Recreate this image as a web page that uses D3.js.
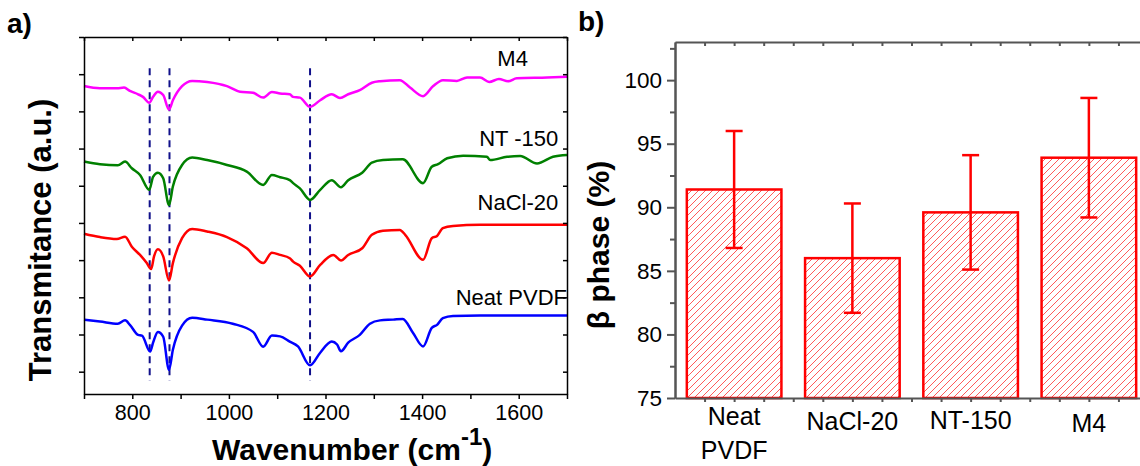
<!DOCTYPE html>
<html>
<head>
<meta charset="utf-8">
<script src="https://cdn.jsdelivr.net/npm/d3@7"></script>
<style>
    body { margin: 0; background: #fff; }
    text { font-family: Arial, "Liberation Sans", sans-serif; }
</style>
</head>
<body>
<div id="chart"></div>
<script>

// Data
// ============================================

// FTIR spectra: [wavenumber (cm-1), transmittance (a.u., offset)]
var neatPVDF = [[700,1.40],[733,1.35],[770,1.29],[785,1.38],[795,1.26],[812,0.99],[820,0.97],[837,0.54],[843,0.78],[853,1.07],[864,0.94],[876,0.05],[884,0.59],[903,1.24],[924,1.45],[955,1.40],[1008,1.29],[1050,1.07],[1071,0.67],[1089,0.97],[1106,0.95],[1126,0.81],[1143,0.68],[1168,0.17],[1189,0.51],[1213,0.81],[1224,0.73],[1232,0.55],[1247,0.78],[1271,0.99],[1292,1.29],[1313,1.38],[1340,1.40],[1360,1.42],[1381,1.05],[1402,0.68],[1420,1.18],[1431,1.26],[1443,1.44],[1464,1.50],[1520,1.51],[1700,1.51]];

var nacl20 = [[700,3.71],[733,3.62],[768,3.57],[785,3.63],[799,3.36],[816,3.14],[830,2.92],[839,2.76],[845,3.10],[853,3.29],[864,3.10],[876,2.45],[884,2.92],[903,3.59],[924,3.84],[955,3.77],[996,3.62],[1037,3.32],[1071,2.92],[1089,3.20],[1106,3.14],[1126,3.05],[1133,2.96],[1147,2.85],[1168,2.56],[1189,2.87],[1216,3.14],[1232,2.99],[1247,3.14],[1276,3.32],[1296,3.68],[1319,3.79],[1354,3.81],[1365,3.68],[1402,3.01],[1420,3.59],[1431,3.65],[1443,3.86],[1464,3.92],[1520,3.95],[1700,3.95]];

var nt150 = [[700,5.65],[733,5.58],[770,5.55],[785,5.65],[799,5.47],[816,5.29],[835,4.89],[843,5.24],[853,5.35],[864,5.20],[876,4.48],[884,4.98],[903,5.56],[924,5.76],[955,5.69],[996,5.56],[1037,5.38],[1071,5.02],[1089,5.29],[1106,5.23],[1126,5.15],[1133,5.07],[1147,4.93],[1168,4.62],[1189,4.89],[1213,5.15],[1232,4.96],[1247,5.15],[1276,5.35],[1296,5.62],[1319,5.69],[1360,5.71],[1402,5.07],[1420,5.51],[1433,5.58],[1452,5.74],[1485,5.81],[1534,5.78],[1541,5.69],[1576,5.78],[1603,5.80],[1638,5.60],[1671,5.78],[1700,5.83]];

var m4 = [[700,7.68],[733,7.62],[768,7.62],[783,7.64],[795,7.55],[812,7.46],[822,7.39],[835,7.23],[843,7.39],[853,7.53],[864,7.44],[876,7.05],[884,7.30],[903,7.68],[924,7.82],[955,7.79],[996,7.68],[1023,7.53],[1050,7.50],[1071,7.37],[1089,7.52],[1106,7.48],[1126,7.46],[1133,7.39],[1147,7.37],[1168,7.12],[1189,7.30],[1213,7.46],[1230,7.36],[1247,7.46],[1271,7.57],[1296,7.77],[1313,7.81],[1354,7.84],[1375,7.64],[1402,7.41],[1423,7.68],[1443,7.84],[1472,7.82],[1493,7.91],[1520,7.91],[1539,7.79],[1559,7.87],[1578,7.81],[1596,7.89],[1659,7.91],[1700,7.93]];

var spectraNames = ["Neat PVDF", "NaCl-20", "NT -150", "M4"];
var spectraColors = ["#0000ff", "#ff0000", "#008000", "#ff00ff"];

// marker lines (cm-1) and their vertical extent (a.u.)
var peakLines = [836, 877, 1168];
var peakLineRange = [-0.24, 8.16];

var wnTicks = [700, 800, 900, 1000, 1100, 1200, 1300, 1400, 1500, 1600, 1700];
var wnLabels = [800, 1000, 1200, 1400, 1600];
var transTicks = [0, 1, 2, 3, 4, 5, 6, 7, 8, 9];

// beta phase content
var categories = ["Neat PVDF", "NaCl-20", "NT-150", "M4"];
var betaValues = [91.4, 86.0, 89.6, 93.9];
var betaErrors = [4.6, 4.3, 4.5, 4.7];
var betaTicks = [75, 80, 85, 90, 95, 100];
var betaMinorTicks = [77.5, 82.5, 87.5, 92.5, 97.5, 102.5];


// SVG
// ============================================
var svg = d3.select("#chart")
    .append("svg")
    .attr("width", 1140)
    .attr("height", 466);

var defs = svg.append("defs");

// thin diagonal hatch for the bars
defs.append("pattern")
    .attr("id", "hatch")
    .attr("patternUnits", "userSpaceOnUse")
    .attr("width", 7)
    .attr("height", 7)
    .append("path")
    .attr("d", "M-1,1 l2,-2 M0,7 l7,-7 M6,8 l2,-2")
    .attr("stroke", "#ff3030")
    .attr("stroke-width", 0.8);


// Panel a) FTIR spectra
// ============================================
var xScale = d3.scaleLinear().domain([700, 1700]).range([84, 567]);
var yScale = d3.scaleLinear().domain([-0.6, 9]).range([394, 37]);

var panelA = svg.append("g");

var line = d3.line()
    .x(d => xScale(d[0]))
    .y(d => yScale(d[1]))
    .curve(d3.curveMonotoneX);

// dashed peak markers
panelA.append("g")
    .selectAll("line")
    .data(peakLines)
    .enter()
    .append("line")
    .attr("x1", d => xScale(d))
    .attr("x2", d => xScale(d))
    .attr("y1", yScale(peakLineRange[1]))
    .attr("y2", yScale(peakLineRange[0]))
    .attr("stroke", "#10108a")
    .attr("stroke-width", 2)
    .attr("stroke-dasharray", "7,5");

// spectra
var spectra = [neatPVDF, nacl20, nt150, m4];

panelA.append("g")
    .selectAll("path")
    .data(spectra)
    .enter()
    .append("path")
    .attr("d", line)
    .attr("fill", "none")
    .attr("stroke", (d, i) => spectraColors[i])
    .attr("stroke-width", 2.5)
    .attr("stroke-linejoin", "round");

// axes
var bottomAxis = d3.axisBottom(xScale)
    .tickValues(wnTicks)
    .tickSizeInner(5)
    .tickSizeOuter(0)
    .tickPadding(6)
    .tickFormat(d => wnLabels.indexOf(d) >= 0 ? d : "");

var xAxisA = panelA.append("g")
    .attr("transform", `translate(0, ${yScale.range()[0]})`)
    .call(bottomAxis);

panelA.append("g")
    .attr("transform", `translate(0, ${yScale.range()[1]})`)
    .call(d3.axisTop(xScale).tickValues(wnTicks).tickSizeInner(-4).tickSizeOuter(0).tickFormat(""));

panelA.append("g")
    .attr("transform", `translate(${xScale.range()[0]}, 0)`)
    .call(d3.axisLeft(yScale).tickValues(transTicks).tickSizeInner(5).tickSizeOuter(0).tickFormat(""));

panelA.append("g")
    .attr("transform", `translate(${xScale.range()[1]}, 0)`)
    .call(d3.axisRight(yScale).tickValues(transTicks).tickSizeInner(-4).tickSizeOuter(0).tickFormat(""));

panelA.selectAll(".domain, .tick line")
    .attr("stroke", "#000")
    .attr("stroke-width", 1.5);

xAxisA.selectAll("text")
    .attr("font-size", "21.5px")
    .attr("fill", "#000");

// spectra labels
var labelSpots = [[1700, 1.80], [1682, 4.35], [1682, 6.08], [1619, 8.21]];

panelA.append("g")
    .selectAll("text")
    .data(spectraNames)
    .enter()
    .append("text")
    .attr("x", (d, i) => xScale(labelSpots[i][0]))
    .attr("y", (d, i) => yScale(labelSpots[i][1]))
    .attr("text-anchor", "end")
    .attr("font-size", "22px")
    .attr("fill", "#000")
    .text(d => d);

// axis titles
var xTitle = panelA.append("text")
    .attr("x", 212)
    .attr("y", 460)
    .attr("font-size", "30px")
    .attr("font-weight", "bold")
    .attr("fill", "#000");
xTitle.append("tspan").text("Wavenumber (cm");
xTitle.append("tspan").attr("font-size", "24px").attr("dy", -15).text("-1");
xTitle.append("tspan").attr("dy", 15).text(")");

panelA.append("text")
    .attr("transform", "translate(51, 240) rotate(-90)")
    .attr("text-anchor", "middle")
    .attr("font-size", "31px")
    .attr("font-weight", "bold")
    .attr("fill", "#000")
    .text("Transmitance (a.u.)");

panelA.append("text")
    .attr("x", 7)
    .attr("y", 33)
    .attr("font-size", "28px")
    .attr("font-weight", "bold")
    .text("a)");


// Panel b) beta phase bars
// ============================================
var xBand = d3.scaleBand()
    .domain(categories)
    .range([675, 1148])
    .paddingInner(0.2)
    .paddingOuter(0.1);

// same range, in category index units, for the quarter-step ticks
var xIndex = d3.scaleLinear().domain([-0.5, 3.5]).range(xBand.range());
var quarterTicks = d3.range(-0.25, 3.5, 0.25);

var yBeta = d3.scaleLinear().domain([75, 103]).range([398, 42]);

var panelB = svg.append("g");

// bars
panelB.append("g")
    .selectAll("rect")
    .data(betaValues)
    .enter()
    .append("rect")
    .attr("x", (d, i) => xBand(categories[i]))
    .attr("y", d => yBeta(d))
    .attr("width", xBand.bandwidth())
    .attr("height", d => yBeta(75) - yBeta(d))
    .attr("fill", "url(#hatch)")
    .attr("stroke", "#ff0000")
    .attr("stroke-width", 2.5);

// error bars
var errGroup = panelB.append("g")
    .selectAll("g")
    .data(betaValues)
    .enter()
    .append("g")
    .attr("transform", (d, i) => `translate(${xBand(categories[i]) + xBand.bandwidth() / 2}, 0)`);

errGroup.append("line")
    .attr("y1", (d, i) => yBeta(d + betaErrors[i]))
    .attr("y2", (d, i) => yBeta(d - betaErrors[i]));

errGroup.append("line")
    .attr("x1", -8.5).attr("x2", 8.5)
    .attr("y1", (d, i) => yBeta(d + betaErrors[i]))
    .attr("y2", (d, i) => yBeta(d + betaErrors[i]));

errGroup.append("line")
    .attr("x1", -8.5).attr("x2", 8.5)
    .attr("y1", (d, i) => yBeta(d - betaErrors[i]))
    .attr("y2", (d, i) => yBeta(d - betaErrors[i]));

errGroup.selectAll("line")
    .attr("stroke", "#ff0000")
    .attr("stroke-width", 2.5);

// axes
var yAxisB = panelB.append("g")
    .attr("transform", `translate(${xBand.range()[0]}, 0)`)
    .call(d3.axisLeft(yBeta).tickValues(betaTicks).tickSizeInner(8).tickSizeOuter(0).tickPadding(5));

panelB.append("g")
    .attr("transform", `translate(${xBand.range()[0]}, 0)`)
    .call(d3.axisLeft(yBeta).tickValues(betaMinorTicks).tickSizeInner(5).tickSizeOuter(0).tickFormat(""));

panelB.append("g")
    .attr("transform", `translate(0, ${yBeta.range()[1]})`)
    .call(d3.axisTop(xIndex).tickValues(quarterTicks).tickSizeInner(-4).tickSizeOuter(0).tickFormat(""));

panelB.append("g")
    .attr("transform", `translate(0, ${yBeta.range()[0]})`)
    .call(d3.axisBottom(xIndex).tickValues(quarterTicks).tickSizeInner(4).tickSizeOuter(0).tickFormat(""));

panelB.selectAll(".domain, .tick line")
    .attr("stroke", "#555")
    .attr("stroke-width", 2);

yAxisB.selectAll("text")
    .attr("font-size", "22.5px")
    .attr("fill", "#000");

// category labels
var catLines = [["Neat", "PVDF"], ["NaCl-20"], ["NT-150"], ["M4"]];
var catBaselines = [425, 430, 429, 432];

var catText = panelB.append("g")
    .selectAll("text")
    .data(catLines)
    .enter()
    .append("text")
    .attr("text-anchor", "middle")
    .attr("font-size", "25px")
    .attr("fill", "#000");

catText.selectAll("tspan")
    .data((d, i) => d.map(t => ({ t: t, i: i })))
    .enter()
    .append("tspan")
    .attr("x", d => xBand(categories[d.i]) + xBand.bandwidth() / 2)
    .attr("y", (d, j) => catBaselines[d.i] + j * 34)
    .text(d => d.t);

// titles
panelB.append("text")
    .attr("transform", "translate(609, 245) rotate(-90)")
    .attr("text-anchor", "middle")
    .attr("font-size", "30px")
    .attr("font-weight", "bold")
    .attr("fill", "#000")
    .text("β phase (%)");

panelB.append("text")
    .attr("x", 578)
    .attr("y", 31)
    .attr("font-size", "28px")
    .attr("font-weight", "bold")
    .text("b)");

</script>
</body>
</html>
